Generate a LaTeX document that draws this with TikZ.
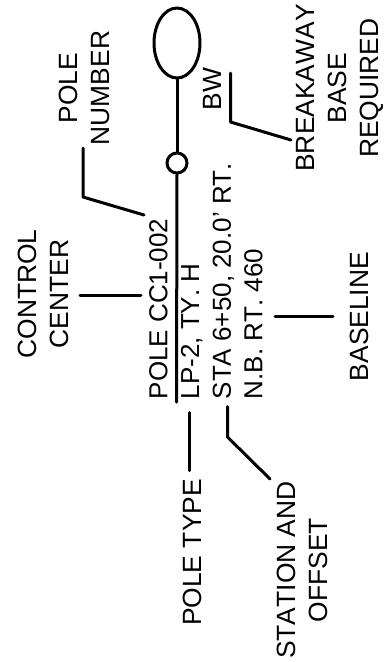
\documentclass[tikz,border=0pt]{standalone}
\usepackage{fontspec}
\setmainfont{Liberation Sans}[Kerning=Off]
\usetikzlibrary{shapes.geometric}
\tikzset{
  lbl/.style={rotate=90,inner sep=0pt,align=center,font=\fontsize{26.4}{32}\selectfont},
  leader/.style={line width=3pt,line cap=round,line join=round},
}
\begin{document}
\begin{tikzpicture}[x=1pt,y=1pt,yscale=-1,xscale=1]
    \useasboundingbox (0,0) rectangle (385,662);
    % Pole symbols
    \node [ellipse,draw,line width=3pt,minimum width=46pt,minimum height=70pt,inner sep=0pt] (luminaire) at (177,43) {};
    \node [circle,draw,line width=3pt,minimum size=20pt,inner sep=0pt] (pole) at (177,163) {};
    \coordinate (armend) at (176.5,402);
    \draw [leader] (luminaire.south) -- (pole.north);
    \draw [leader] (pole.south) -- (armend);

    % Text Node
    \node [lbl,anchor=north west,align=left,font=\fontsize{26}{31.7}\selectfont] (callout) at (149,399.5) {POLE CC1-002\\LP-2, TY. H\\STA 6+50, 20.0' RT.\\N.B. RT. 460};
    % Text Node
    \node [lbl] (numberlbl) at (84,88) {POLE\\NUMBER};
    % Text Node
    \node [lbl] (centerlbl) at (43,294) {CONTROL\\CENTER};
    % Text Node
    \node [lbl,anchor=base] (bwlbl) at (221.7,89) {BW};
    % Text Node
    \node [lbl] (breaklbl) at (340,88) {BREAKAWAY\\BASE\\REQUIRED};
    % Text Node
    \node [lbl,anchor=base] (baselbl) at (368,316.6) {BASELINE};
    % Text Node
    \node [lbl,anchor=base] (typelbl) at (201,552.5) {POLE TYPE};
    % Text Node
    \node [lbl] (stationlbl) at (302,570) {STATION AND\\OFFSET};

    % Leaders
    \coordinate (numberA) at (83,148);
    \coordinate (numberB) at (83,197);
    \coordinate (numberC) at (144,215);
    \draw [leader] (numberA) -- (numberB) -- (numberC);
    \coordinate (centerA) at (80,295.7);
    \coordinate (centerB) at (141,295.7);
    \draw [leader] (centerA) -- (centerB);
    \coordinate (bwA) at (230.5,73);
    \coordinate (bwB) at (230.5,122);
    \coordinate (bwC) at (291,140);
    \draw [leader] (bwA) -- (bwB) -- (bwC);
    \coordinate (baseA) at (275,316.7);
    \coordinate (baseB) at (333,316.7);
    \draw [leader] (baseA) -- (baseB);
    \coordinate (typeA) at (189,412.7);
    \coordinate (typeB) at (189,470.7);
    \draw [leader] (typeA) -- (typeB);
    \coordinate (stationA) at (227.5,406.7);
    \coordinate (stationB) at (227.5,437);
    \coordinate (stationC) at (270,479);
    \draw [leader] (stationA) -- (stationB) -- (stationC);
\end{tikzpicture}
\end{document}
